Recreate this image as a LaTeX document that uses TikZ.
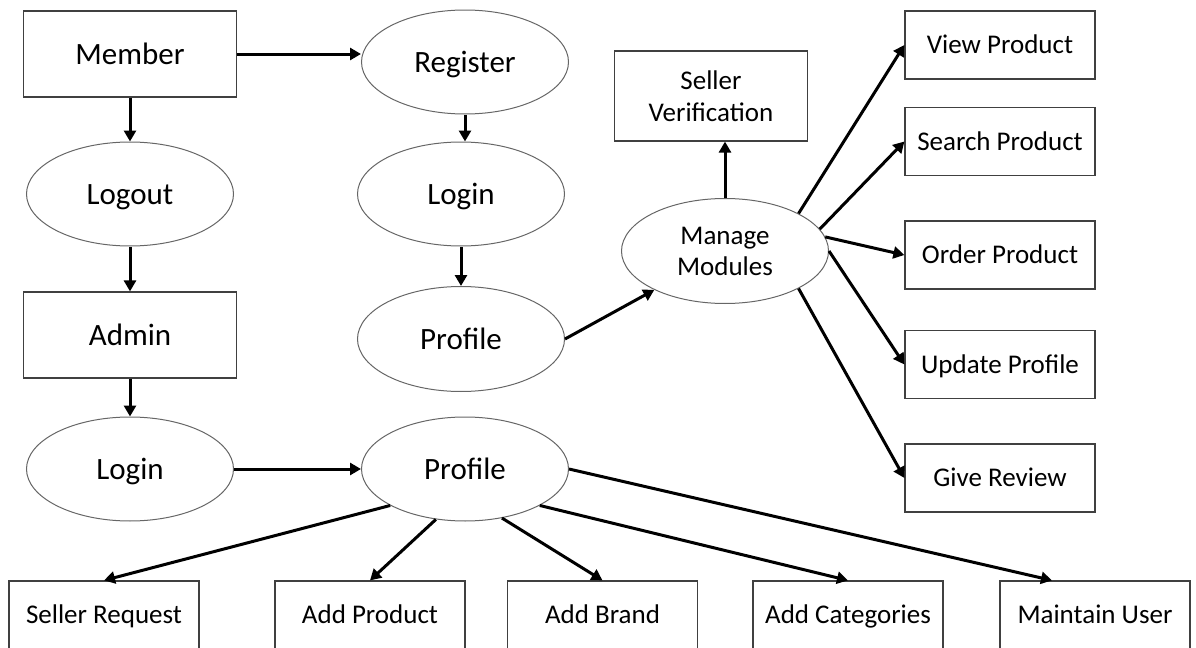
\documentclass[tikz,border=0pt]{standalone}
\usepackage{fontspec}
\setmainfont{Carlito}
\usetikzlibrary{arrows.meta, shapes.geometric}

\begin{document}
\begin{tikzpicture}[
  x=0.5pt, y=-0.5pt,
  twoline/.style = {draw=black!75, line width=0.6pt, inner sep=0pt, align=center, font=\fontsize{13.5}{16}\selectfont},
  box/.style = {twoline, minimum width=95pt, minimum height=34pt, text height=8.7pt, text depth=0pt},
  bigbox/.style = {box, minimum width=106.5pt, minimum height=43pt, text height=10pt, font=\fontsize{15.5}{18}\selectfont},
  oval/.style = {ellipse, draw=black!60, line width=0.5pt, minimum width=103.5pt, minimum height=52pt, inner sep=0pt, align=center, text height=10pt, text depth=0pt, font=\fontsize{15.5}{18}\selectfont},
  arrow/.style = {line width=1.5pt, -{Triangle[length=5.5pt, width=6pt]}}
]

  \useasboundingbox (0,0) rectangle (1196,648);

  % Member and Admin column
  \node[bigbox] (member) at (130,54) {Member};
  \node[oval] (logout) at (130,194) {Logout};
  \node[bigbox] (admin) at (130,335) {Admin};
  \node[oval] (adminlogin) at (130,469) {Login};

  % Register branch
  \node[oval] (register) at (465,62) {Register};
  \node[oval] (login) at (461,194) {Login};
  \node[oval, minimum height=52.5pt] (profile) at (461,339) {Profile};

  % Admin profile
  \node[oval] (adminprofile) at (465,469) {Profile};

  % Manage Modules
  \node[twoline, minimum width=96.5pt, minimum height=45pt] (verify) at (711,96) {Seller\\Verification};
  \node[ellipse, twoline, draw=black!60, line width=0.5pt, minimum width=103.5pt, minimum height=52.5pt, font=\fontsize{13.5}{15.5}\selectfont] (manage) at (725,251) {Manage\\Modules};

  % Member modules
  \node[box] (view) at (1000,45) {View Product};
  \node[box] (search) at (1000,141.5) {Search Product};
  \node[box] (order) at (1000,255) {Order Product};
  \node[box] (update) at (1000,364.5) {Update Profile};
  \node[box] (review) at (1000,478) {Give Review};

  % Admin modules
  \node[box] (request) at (104,615) {Seller Request};
  \node[box] (addproduct) at (370,615) {Add Product};
  \node[box] (addbrand) at (602.5,615) {Add Brand};
  \node[box] (addcat) at (848,615) {Add Categories};
  \node[box] (maintain) at (1095,615) {Maintain User};

  % member -> register, logout -> admin -> login
  \draw[arrow] (member.east) -- (member.east -| register.west);
  \draw[arrow] (member) -- (logout);
  \draw[arrow] (logout) -- (admin);
  \draw[arrow] (admin) -- (adminlogin);
  \draw[arrow] (adminlogin) -- (adminprofile);

  % register -> login -> profile -> manage
  \draw[arrow] (register.south) -- (register.south |- login.north);
  \draw[arrow] (login) -- (profile);
  \draw[arrow] (profile.east) -- (manage);

  % manage -> modules
  \draw[arrow] (manage.north) -- (manage.north |- verify.south);
  \draw[arrow] (manage.27.5) -- (view.west);
  \draw[arrow] (manage.13.5) -- (search.west);
  \draw[arrow] (manage.8) -- (order.west);
  \draw[arrow] (manage.east) -- (update.west);
  \draw[arrow] (manage.-27.5) -- (review.west);

  % admin profile -> modules
  \draw[arrow] (adminprofile.206) -- (request.north);
  \draw[arrow] (adminprofile.-120) -- (addproduct.north);
  \draw[arrow] (adminprofile.-53) -- (addbrand.north);
  \draw[arrow] (adminprofile.-26) -- (addcat.north);
  \draw[arrow] (adminprofile.east) -- ([xshift=-21.5pt]maintain.north);

\end{tikzpicture}
\end{document}
